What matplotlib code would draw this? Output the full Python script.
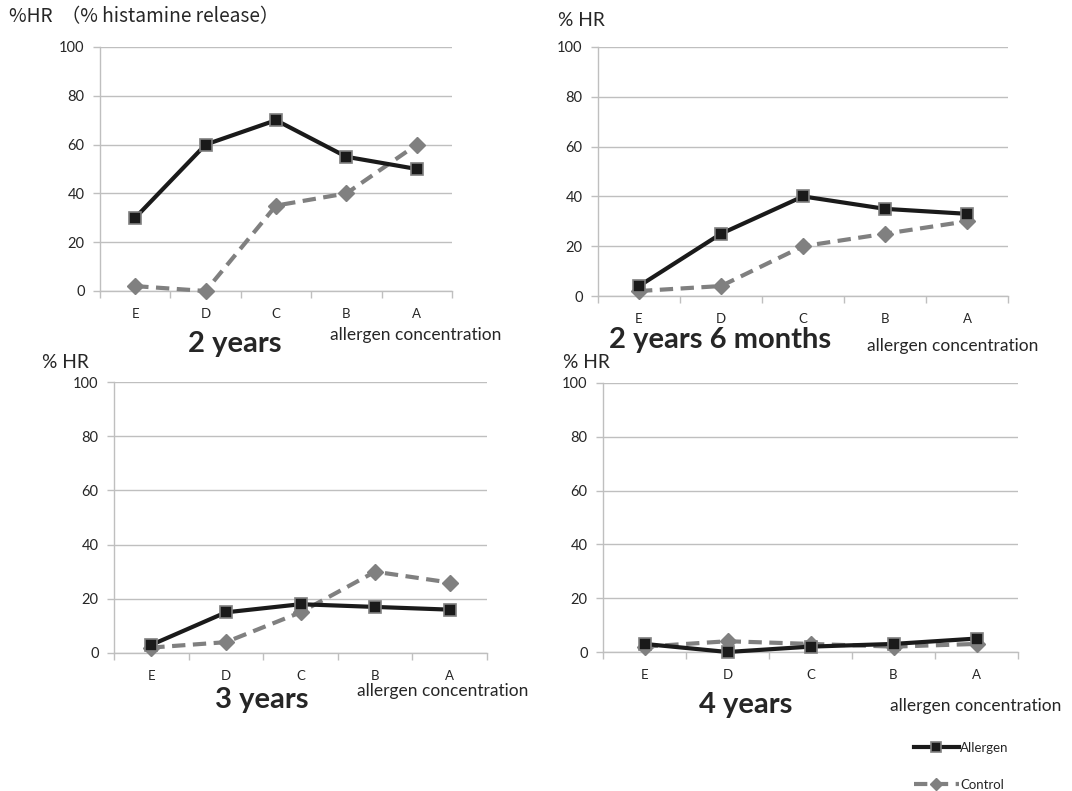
import matplotlib
matplotlib.use("Agg")
import matplotlib.pyplot as plt
import numpy as np

plt.rcParams['font.family'] = ['Lato', 'DejaVu Sans']

# data
categories = ['E', 'D', 'C', 'B', 'A']
panel_titles = ['2 years', '2 years 6 months', '3 years', '4 years']
allergen_2y = [30, 60, 70, 55, 50]
control_2y = [2, 0, 35, 40, 60]
allergen_2y6m = [4, 25, 40, 35, 33]
control_2y6m = [2, 4, 20, 25, 30]
allergen_3y = [3, 15, 18, 17, 16]
control_3y = [2, 4, 15, 30, 26]
allergen_4y = [3, 0, 2, 3, 5]
control_4y = [2, 4, 3, 2, 3]
yticks = [0, 20, 40, 60, 80, 100]

W, H = 1072, 791
fig = plt.figure(figsize=(W / 100, H / 100), dpi=100)
fig.patch.set_facecolor('white')

GRID = '#BFBFBF'
GRAY = '#808080'
TXT = '#262626'


def px_axes(left, right, top, bottom):
    return fig.add_axes([left / W, 1 - bottom / H, (right - left) / W, (bottom - top) / H])


def draw_panel(ax, allergen, control):
    x = np.arange(len(categories))
    ax.set_xlim(-0.5, len(categories) - 0.5)
    ax.set_ylim(0, 100)
    ax.set_yticks(yticks)
    ax.grid(axis='y', color=GRID, lw=1)
    ax.set_axisbelow(True)
    ax.set_xticks(x)
    ax.set_xticklabels(categories, fontsize=9.5, color=TXT)
    ax.set_xticks(np.arange(-0.5, len(categories), 1.0), minor=True)
    ax.tick_params(axis='x', which='major', length=0, pad=12)
    ax.tick_params(axis='x', which='minor', length=5, color=GRID, width=1)
    ax.tick_params(axis='y', length=5, color=GRID, width=1, labelsize=10.5, labelcolor=TXT, pad=6)
    for s in ['top', 'right']:
        ax.spines[s].set_visible(False)
    for s in ['left', 'bottom']:
        ax.spines[s].set_color(GRID)
        ax.spines[s].set_linewidth(1)
    ax.plot(x, control, color=GRAY, lw=3, ls=(0, (3.2, 1.8)), marker='D',
            ms=8, mfc=GRAY, mec=GRAY, clip_on=False, zorder=3, label='Control')
    ax.plot(x, allergen, color='#1a1a1a', lw=3, marker='s', ms=9,
            mfc='#1a1a1a', mec=GRAY, mew=1.2, clip_on=False, zorder=4, label='Allergen')


ax1 = px_axes(100, 452, 47, 291)
draw_panel(ax1, allergen_2y, control_2y)
ax2 = px_axes(598, 1008, 47, 296)
draw_panel(ax2, allergen_2y6m, control_2y6m)
ax3 = px_axes(114, 487, 382, 653)
draw_panel(ax3, allergen_3y, control_3y)
ax4 = px_axes(603, 1018, 383, 652)
draw_panel(ax4, allergen_4y, control_4y)


def ftext(x, y, s, **kw):
    fig.text(x / W, 1 - y / H, s, color=TXT, **kw)


ftext(9, 17, '%HR  （% histamine release）', fontsize=13.8, va='center', ha='left',
      family=['Noto Sans CJK JP', 'Lato'])
ftext(558, 21, '% HR', fontsize=13.8, va='center')
ftext(42, 363, '% HR', fontsize=13.8, va='center')
ftext(563, 363, '% HR', fontsize=13.8, va='center')

ftext(235, 344, panel_titles[0], fontsize=21, fontweight='bold', ha='center', va='center')
ftext(720, 340, panel_titles[1], fontsize=21, fontweight='bold', ha='center', va='center')
ftext(262, 700, panel_titles[2], fontsize=21, fontweight='bold', ha='center', va='center')
ftext(746, 705, panel_titles[3], fontsize=21, fontweight='bold', ha='center', va='center')

ftext(330, 335, 'allergen concentration', fontsize=12.5, va='center', ha='left')
ftext(867, 346, 'allergen concentration', fontsize=12.5, va='center', ha='left')
ftext(357, 691, 'allergen concentration', fontsize=12.5, va='center', ha='left')
ftext(890, 706, 'allergen concentration', fontsize=12.5, va='center', ha='left')

handles, labels = ax4.get_legend_handles_labels()
fig.legend(handles[::-1], labels[::-1], loc='upper left',
           bbox_to_anchor=(902 / W, 1 - 730 / H), frameon=False, fontsize=9.5,
           handlelength=3.4, labelspacing=1.9, handletextpad=0.1,
           markerscale=0.8, labelcolor=TXT)

fig.savefig('out.png', dpi=100, facecolor='white')
